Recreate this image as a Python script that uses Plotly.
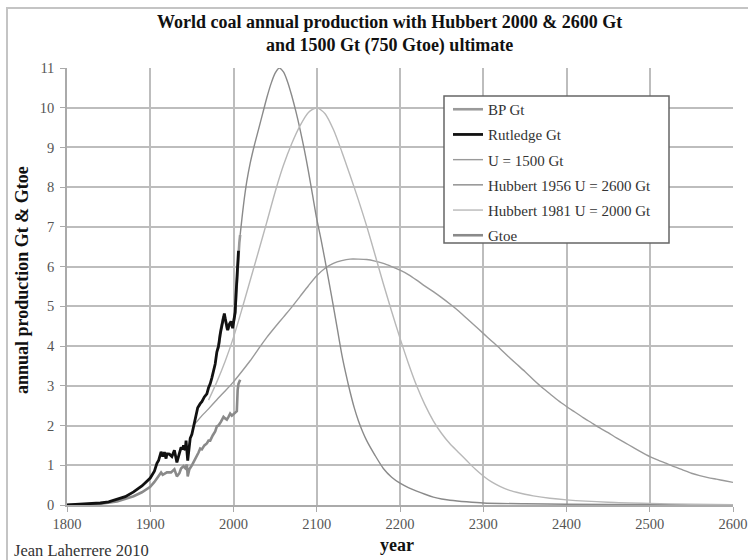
import plotly.graph_objects as go

# Historical production (Gt of coal), Rutledge series
rutledge_year = [1800, 1810, 1820, 1830, 1840, 1850, 1860, 1870, 1880, 1890, 1900, 1905,
                 1908, 1910, 1913, 1915, 1917, 1919, 1920, 1923, 1926, 1929, 1932, 1934,
                 1937, 1939, 1940, 1942, 1943, 1945, 1946, 1948, 1950, 1952, 1955, 1957,
                 1960, 1962, 1965, 1968, 1970, 1972, 1974, 1976, 1978, 1980, 1982, 1984,
                 1986, 1988, 1989, 1990, 1992, 1993, 1995, 1997, 1999, 2000, 2001, 2002,
                 2003, 2004, 2005, 2006]
rutledge_gt = [0.0, 0.01, 0.02, 0.03, 0.05, 0.08, 0.14, 0.21, 0.33, 0.48, 0.68, 0.85,
               1.05, 1.12, 1.34, 1.22, 1.33, 1.17, 1.29, 1.28, 1.22, 1.38, 1.07, 1.20,
               1.45, 1.40, 1.50, 1.38, 1.62, 1.12, 1.38, 1.68, 1.78, 1.97, 2.20, 2.45,
               2.55, 2.60, 2.72, 2.80, 2.95, 3.05, 3.20, 3.35, 3.55, 3.85, 4.00, 4.30,
               4.55, 4.78, 4.82, 4.70, 4.50, 4.40, 4.55, 4.62, 4.45, 4.60, 4.75, 4.85,
               5.30, 5.65, 6.00, 6.40]

# BP statistical review, Gt
bp_year = [1981, 1983, 1985, 1987, 1988, 1990, 1992, 1994, 1996, 1998, 2000, 2002,
           2004, 2005, 2006, 2007, 2008]
bp_gt = [3.90, 4.10, 4.45, 4.65, 4.75, 4.70, 4.45, 4.45, 4.60, 4.50, 4.60, 4.85,
         5.65, 6.00, 6.35, 6.60, 6.80]

# Production converted to Gtoe
gtoe_year = [1800, 1820, 1840, 1860, 1870, 1880, 1890, 1900, 1905, 1910, 1913, 1915,
             1920, 1925, 1929, 1932, 1935, 1937, 1940, 1942, 1944, 1945, 1947, 1950,
             1955, 1958, 1960, 1962, 1965, 1968, 1970, 1972, 1975, 1978, 1980, 1982,
             1985, 1988, 1990, 1992, 1994, 1996, 1998, 2000, 2002, 2004, 2005, 2006,
             2008]
gtoe = [0.0, 0.01, 0.03, 0.09, 0.15, 0.22, 0.32, 0.46, 0.58, 0.74, 0.82, 0.76,
        0.82, 0.82, 0.90, 0.72, 0.80, 0.92, 0.98, 0.93, 1.02, 0.72, 0.90, 1.00,
        1.18, 1.32, 1.42, 1.40, 1.50, 1.55, 1.62, 1.62, 1.75, 1.85, 1.98, 2.00,
        2.10, 2.22, 2.18, 2.15, 2.22, 2.30, 2.25, 2.28, 2.32, 2.36, 2.90, 3.05,
        3.15]

# Model curve, ultimate 1500 Gt
u1500_year = [1952, 1960, 1970, 1980, 1990, 2000, 2010, 2020, 2030, 2040, 2050, 2060,
              2070, 2080, 2090, 2100, 2110, 2120, 2130, 2140, 2150, 2160, 2170, 2180,
              2190, 2200, 2210, 2220, 2230, 2240, 2250, 2260, 2270, 2280, 2290, 2300,
              2310, 2320, 2330, 2340, 2350, 2360, 2370, 2380, 2390, 2400, 2410, 2420,
              2430, 2440, 2450, 2460, 2470, 2480, 2490, 2500, 2510, 2520, 2530, 2540,
              2550, 2560, 2570, 2580, 2590, 2600]
u1500_gt = [2.00, 2.20, 2.42, 2.65, 2.87, 3.10, 3.36, 3.63, 3.93, 4.22, 4.48, 4.73,
            4.98, 5.25, 5.52, 5.77, 5.96, 6.08, 6.15, 6.19, 6.19, 6.18, 6.14, 6.08,
            6.00, 5.91, 5.80, 5.66, 5.51, 5.37, 5.22, 5.06, 4.89, 4.70, 4.51, 4.32,
            4.13, 3.94, 3.74, 3.55, 3.36, 3.16, 2.97, 2.80, 2.63, 2.48, 2.34, 2.20,
            2.07, 1.94, 1.82, 1.69, 1.57, 1.45, 1.33, 1.22, 1.13, 1.05, 0.96, 0.88,
            0.80, 0.74, 0.69, 0.65, 0.61, 0.57]

# Hubbert 1956, ultimate 2600 Gt
h1956_year = [2008, 2012, 2016, 2020, 2025, 2030, 2035, 2040, 2045, 2050, 2055, 2060,
              2065, 2070, 2075, 2080, 2085, 2090, 2095, 2100, 2105, 2110, 2115, 2120,
              2125, 2130, 2135, 2140, 2145, 2150, 2155, 2160, 2170, 2180, 2190, 2200,
              2210, 2220, 2230, 2240, 2250, 2260, 2280, 2300, 2350, 2400, 2500, 2600]
h1956_gt = [6.80, 7.55, 8.15, 8.60, 9.05, 9.45, 9.85, 10.25, 10.60, 10.87, 11.00, 10.90,
            10.65, 10.30, 9.90, 9.45, 8.95, 8.40, 7.80, 7.20, 6.70, 6.15, 5.58, 5.00,
            4.40, 3.80, 3.30, 2.85, 2.45, 2.12, 1.85, 1.62, 1.25, 0.92, 0.70, 0.55,
            0.44, 0.35, 0.27, 0.20, 0.15, 0.12, 0.08, 0.05, 0.03, 0.02, 0.01, 0.005]

# Hubbert 1981, ultimate 2000 Gt
h1981_year = [1970, 1980, 1990, 2000, 2010, 2020, 2030, 2040, 2050, 2060, 2070, 2080,
              2090, 2100, 2110, 2120, 2130, 2140, 2150, 2160, 2170, 2180, 2190, 2200,
              2210, 2220, 2230, 2240, 2250, 2260, 2270, 2280, 2290, 2300, 2310, 2320,
              2330, 2340, 2350, 2360, 2380, 2400, 2450, 2500, 2550, 2600]
h1981_gt = [2.64, 3.10, 3.62, 4.22, 4.92, 5.65, 6.38, 7.12, 7.88, 8.55, 9.10, 9.55,
            9.88, 10.00, 9.85, 9.45, 8.90, 8.30, 7.68, 7.02, 6.30, 5.57, 4.87, 4.20,
            3.57, 3.00, 2.52, 2.12, 1.80, 1.54, 1.33, 1.12, 0.91, 0.73, 0.58, 0.47,
            0.38, 0.32, 0.27, 0.23, 0.17, 0.13, 0.07, 0.04, 0.02, 0.01]

x_ticks = list(range(1800, 2601, 100))
y_ticks = list(range(0, 12))

SERIF = "Liberation Serif, Times New Roman, serif"

fig = go.Figure()

def add_line(x, y, name, color, width, group, spline=False):
    fig.add_trace(go.Scatter(
        x=x, y=y, name=name, mode="lines", legendgroup=group,
        line=dict(color=color, width=width,
                  shape="spline" if spline else "linear", smoothing=0.7),
        hoverinfo="x+y+name"))

# Model curves first so the historical series sit on top
add_line(u1500_year, u1500_gt, "U = 1500 Gt", "#9a9a9a", 1.4, "c", spline=True)
add_line(h1956_year, h1956_gt, "Hubbert 1956 U = 2600 Gt", "#8a8a8a", 1.4, "d", spline=True)
add_line(h1981_year, h1981_gt, "Hubbert 1981 U = 2000 Gt", "#b8b8b8", 1.4, "e", spline=True)
add_line(gtoe_year, gtoe, "Gtoe", "#8a8a8a", 2.6, "f")
add_line(bp_year, bp_gt, "BP Gt", "#9a9a9a", 2.6, "a")
add_line(rutledge_year, rutledge_gt, "Rutledge Gt", "#111111", 2.8, "b")

ranks = {"BP Gt": 1, "Rutledge Gt": 2, "U = 1500 Gt": 3,
         "Hubbert 1956 U = 2600 Gt": 4, "Hubbert 1981 U = 2000 Gt": 5, "Gtoe": 6}
for tr in fig.data:
    tr.legendrank = ranks[tr.name]

W, H = 748, 560
L, R, T, B = 67, 15, 68, 55
pw, ph = W - L - R, H - T - B

def px_x(p):
    return (p - L) / pw

def px_y(p):
    return (H - B - p) / ph

fig.update_layout(
    width=W, height=H,
    margin=dict(l=L, r=R, t=T, b=B),
    paper_bgcolor="white", plot_bgcolor="white",
    font=dict(family=SERIF, size=14, color="#444"),
    showlegend=True,
    legend=dict(
        x=px_x(448), y=px_y(93), xanchor="left", yanchor="top",
        bgcolor="rgba(0,0,0,0)", borderwidth=0,
        font=dict(family=SERIF, size=15, color="#333"),
        tracegroupgap=2.7, traceorder="grouped", itemwidth=30,
    ),
    xaxis=dict(
        range=[1800, 2600], tickvals=x_ticks, ticktext=[str(v) for v in x_ticks],
        showgrid=True, gridcolor="#bdbdbd", gridwidth=1.5,
        showline=True, linecolor="#aaaaaa", linewidth=1.5,
        ticks="outside", ticklen=5, tickcolor="#aaaaaa",
        tickfont=dict(family=SERIF, size=14.5, color="#555"),
        automargin=False, ticklabeloverflow="allow",
        zeroline=False, fixedrange=True,
    ),
    yaxis=dict(
        range=[0, 11], tickvals=y_ticks,
        showgrid=True, gridcolor="#bdbdbd", gridwidth=1.5,
        showline=True, linecolor="#aaaaaa", linewidth=1.5,
        ticks="outside", ticklen=5, tickcolor="#aaaaaa",
        tickfont=dict(family=SERIF, size=14.5, color="#555"),
        ticklabelstandoff=3, automargin=False,
        zeroline=False, fixedrange=True,
    ),
    shapes=[
        # outer chart frame
        dict(type="rect", xref="paper", yref="paper",
             x0=px_x(7), y0=px_y(600), x1=px_x(790), y1=px_y(8),
             line=dict(color="#c4c4c4", width=2), layer="below"),
        # legend box, white over the grid (no curve passes through this area)
        dict(type="rect", xref="paper", yref="paper",
             x0=px_x(444), y0=px_y(243), x1=px_x(669), y1=px_y(96),
             fillcolor="white", line=dict(color="#666", width=1.5), layer="above"),
    ],
    annotations=[
        dict(text="<b>World coal annual production with Hubbert 2000 &amp; 2600 Gt<br>"
                  "and 1500 Gt (750 Gtoe) ultimate</b>",
             xref="paper", yref="paper", x=px_x(389), y=px_y(34),
             xanchor="center", yanchor="middle", showarrow=False,
             font=dict(family=SERIF, size=18, color="#111")),
        dict(text="<b>annual production Gt &amp; Gtoe</b>", textangle=-90,
             xref="paper", yref="paper", x=px_x(22), y=px_y(280),
             xanchor="center", yanchor="middle", showarrow=False,
             font=dict(family=SERIF, size=18, color="#111")),
        dict(text="<b>year</b>", xref="paper", yref="paper",
             x=px_x(397), y=px_y(545), xanchor="center", yanchor="middle",
             showarrow=False, font=dict(family=SERIF, size=18, color="#111")),
        dict(text="Jean Laherrere 2010", xref="paper", yref="paper",
             x=px_x(12), y=px_y(550), xanchor="left", yanchor="middle",
             showarrow=False, font=dict(family=SERIF, size=16.5, color="#333")),
    ],
)

fig.write_html("out.html")
